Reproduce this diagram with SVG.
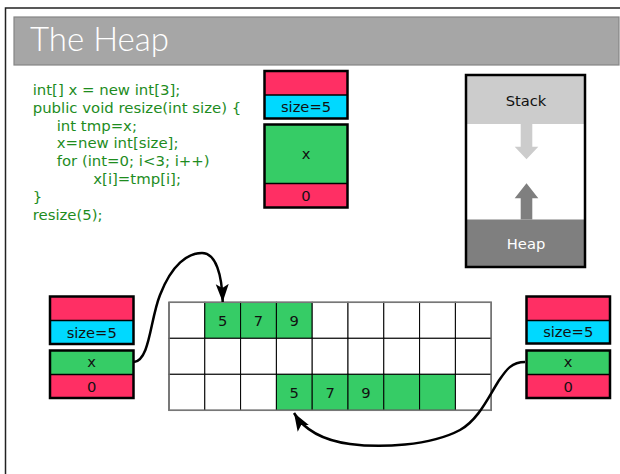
<svg xmlns="http://www.w3.org/2000/svg" width="620" height="474" viewBox="0 0 620 474">
  <style>
    .frame { fill: none; stroke: #222; stroke-width: 1.5; }
    .code { font-family: "DejaVu Sans", "Liberation Sans", sans-serif; font-size: 14.9px; fill: #1e8c1e; }
    .lbl { font-family: "DejaVu Sans", "Liberation Sans", sans-serif; font-size: 14.7px; fill: #111; text-anchor: middle; }
    .box { fill: none; stroke: #000; stroke-width: 2.5; }
    .pink { fill: #ff2f64; }
    .cyan { fill: #00d9ff; }
    .green { fill: #36cc66; }
    .sep { stroke: #000; stroke-width: 1.5; }
    .cell { fill: #fff; stroke: #000; stroke-width: 1; }
    .cell.on { fill: #36cc66; }
    .link { fill: none; stroke: #000; stroke-width: 2.5; }
  </style>
  <defs>
    <marker id="tip" markerUnits="userSpaceOnUse" markerWidth="20" markerHeight="16" viewBox="0 0 20 16" refX="18" refY="8" orient="auto">
      <path d="M0,1.5 L18,8 L0,14.5 L4,8 Z" fill="#000"/>
    </marker>
  </defs>

  <rect width="620" height="474" fill="#fff"/>

  <!-- page frame -->
  <path class="frame" d="M5.5,474 V8 H620"/>

  <!-- title bar -->
  <g id="title">
    <rect x="14" y="17" width="605" height="48" fill="#a6a6a6" stroke="#858585" stroke-width="1.2"/>
    <text x="30" y="50.5" font-family="Lato, 'DejaVu Sans', sans-serif" font-weight="300" font-size="33" fill="#fff">The Heap</text>
  </g>

  <!-- source code -->
  <g id="code" class="code">
    <text x="32.7" y="95">int[] x = new int[3];</text>
    <text x="32.7" y="112.8">public void resize(int size) {</text>
    <text x="56.7" y="130.6">int tmp=x;</text>
    <text x="56.7" y="148.4">x=new int[size];</text>
    <text x="56.7" y="166.2">for (int=0; i&lt;3; i++)</text>
    <text x="93.3" y="184">x[i]=tmp[i];</text>
    <text x="32.7" y="201.8">}</text>
    <text x="32.7" y="219.6">resize(5);</text>
  </g>

  <!-- stack frame of resize(): size parameter -->
  <g id="frame-size">
    <rect class="pink" x="264.5" y="71" width="83" height="24"/>
    <rect class="cyan" x="264.5" y="95" width="83" height="23.5"/>
    <line class="sep" x1="264.5" y1="95" x2="347.5" y2="95"/>
    <rect class="box" x="264.5" y="71" width="83" height="47.5"/>
    <text class="lbl" x="306" y="112">size=5</text>
  </g>

  <!-- stack frame of resize(): x reference -->
  <g id="frame-x">
    <rect class="green" x="264.5" y="124.5" width="83" height="59"/>
    <rect class="pink" x="264.5" y="183.5" width="83" height="24"/>
    <line class="sep" x1="264.5" y1="183.5" x2="347.5" y2="183.5"/>
    <rect class="box" x="264.5" y="124.5" width="83" height="83"/>
    <text class="lbl" x="306" y="159">x</text>
    <text class="lbl" x="306" y="201">0</text>
  </g>

  <!-- memory layout: stack grows down, heap grows up -->
  <g id="memory">
    <rect x="466" y="75" width="119" height="192" fill="#fff"/>
    <rect x="466" y="75" width="119" height="49" fill="#cccccc"/>
    <rect x="466" y="219.5" width="119" height="47.5" fill="#7f7f7f"/>
    <path d="M520.7,124 H532.3 V146.7 H538.3 L526.5,159.3 L514.7,146.7 H520.7 Z" fill="#cccccc"/>
    <path d="M520.7,219.5 H532.3 V198.3 H538.3 L526.5,183.3 L514.7,198.3 H520.7 Z" fill="#7f7f7f"/>
    <rect x="466" y="75" width="119" height="192" fill="none" stroke="#000" stroke-width="2.5"/>
    <text class="lbl" x="526" y="106" fill="#222">Stack</text>
    <text class="lbl" x="526" y="249" style="fill:#fff">Heap</text>
  </g>

  <!-- heap cells -->
  <g id="heap" transform="translate(169,302.3)">
    <g>
      <rect class="cell" x="0" y="0" width="35.8" height="36"/>
      <rect class="cell on" x="35.8" y="0" width="35.8" height="36"/>
      <rect class="cell on" x="71.6" y="0" width="35.8" height="36"/>
      <rect class="cell on" x="107.4" y="0" width="35.8" height="36"/>
      <rect class="cell" x="143.2" y="0" width="35.8" height="36"/>
      <rect class="cell" x="179" y="0" width="35.8" height="36"/>
      <rect class="cell" x="214.8" y="0" width="35.8" height="36"/>
      <rect class="cell" x="250.6" y="0" width="35.8" height="36"/>
      <rect class="cell" x="286.4" y="0" width="35.8" height="36"/>
    </g>
    <g>
      <rect class="cell" x="0" y="36" width="35.8" height="36"/>
      <rect class="cell" x="35.8" y="36" width="35.8" height="36"/>
      <rect class="cell" x="71.6" y="36" width="35.8" height="36"/>
      <rect class="cell" x="107.4" y="36" width="35.8" height="36"/>
      <rect class="cell" x="143.2" y="36" width="35.8" height="36"/>
      <rect class="cell" x="179" y="36" width="35.8" height="36"/>
      <rect class="cell" x="214.8" y="36" width="35.8" height="36"/>
      <rect class="cell" x="250.6" y="36" width="35.8" height="36"/>
      <rect class="cell" x="286.4" y="36" width="35.8" height="36"/>
    </g>
    <g>
      <rect class="cell" x="0" y="72" width="35.8" height="36"/>
      <rect class="cell" x="35.8" y="72" width="35.8" height="36"/>
      <rect class="cell" x="71.6" y="72" width="35.8" height="36"/>
      <rect class="cell on" x="107.4" y="72" width="35.8" height="36"/>
      <rect class="cell on" x="143.2" y="72" width="35.8" height="36"/>
      <rect class="cell on" x="179" y="72" width="35.8" height="36"/>
      <rect class="cell on" x="214.8" y="72" width="35.8" height="36"/>
      <rect class="cell on" x="250.6" y="72" width="35.8" height="36"/>
      <rect class="cell" x="286.4" y="72" width="35.8" height="36"/>
    </g>
    <rect x="0" y="0" width="322.2" height="108" fill="none" stroke="#777" stroke-width="1.5"/>
    <text class="lbl" x="53.7" y="23.5">5</text>
    <text class="lbl" x="89.5" y="23.5">7</text>
    <text class="lbl" x="125.3" y="23.5">9</text>
    <text class="lbl" x="125.3" y="95.5">5</text>
    <text class="lbl" x="161.1" y="95.5">7</text>
    <text class="lbl" x="196.9" y="95.5">9</text>
  </g>

  <!-- old array reference (left) -->
  <g id="old-size">
    <rect class="pink" x="50" y="296.5" width="83.5" height="24"/>
    <rect class="cyan" x="50" y="320.5" width="83.5" height="23.5"/>
    <line class="sep" x1="50" y1="320.5" x2="133.5" y2="320.5"/>
    <rect class="box" x="50" y="296.5" width="83.5" height="47.5"/>
    <text class="lbl" x="91.7" y="337.5">size=5</text>
  </g>
  <g id="old-x">
    <rect class="green" x="50" y="350.5" width="83.5" height="24"/>
    <rect class="pink" x="50" y="374.5" width="83.5" height="23.5"/>
    <line class="sep" x1="50" y1="374.5" x2="133.5" y2="374.5"/>
    <rect class="box" x="50" y="350.5" width="83.5" height="47.5"/>
    <text class="lbl" x="91.7" y="367">x</text>
    <text class="lbl" x="91.7" y="391.5">0</text>
  </g>

  <!-- new array reference (right) -->
  <g id="new-size">
    <rect class="pink" x="526.5" y="296.5" width="83.5" height="24"/>
    <rect class="cyan" x="526.5" y="320.5" width="83.5" height="23"/>
    <line class="sep" x1="526.5" y1="320.5" x2="610" y2="320.5"/>
    <rect class="box" x="526.5" y="296.5" width="83.5" height="47"/>
    <text class="lbl" x="568.2" y="337">size=5</text>
  </g>
  <g id="new-x">
    <rect class="green" x="526.5" y="350.5" width="83.5" height="24"/>
    <rect class="pink" x="526.5" y="374.5" width="83.5" height="23.5"/>
    <line class="sep" x1="526.5" y1="374.5" x2="610" y2="374.5"/>
    <rect class="box" x="526.5" y="350.5" width="83.5" height="47.5"/>
    <text class="lbl" x="568.2" y="367">x</text>
    <text class="lbl" x="568.2" y="391.5">0</text>
  </g>

  <!-- references into the heap -->
  <g id="connectors">
    <path class="link" marker-end="url(#tip)" d="M134,362 C150,360 150,320 160,295 C172,264 188,253 202,253 C216,253 222,275 222.7,302"/>
    <path class="link" marker-end="url(#tip)" d="M525,362 C510,362 505,372 498,382 C488,398 478,420 460,430 C430,446 380,448 350,444 C320,440 303,428 294,413"/>
  </g>
</svg>
